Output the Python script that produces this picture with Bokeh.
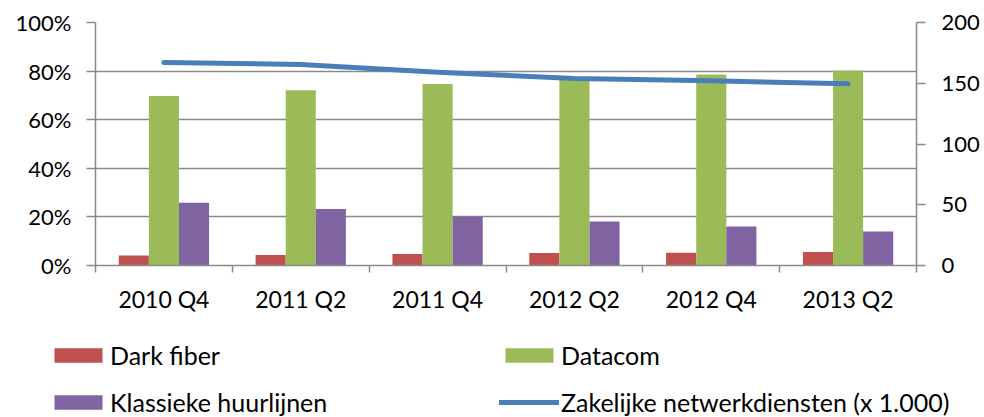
from bokeh.plotting import figure
from bokeh.layouts import column
from bokeh.models import (ColumnDataSource, Range1d, LinearAxis, FixedTicker,
                          NumeralTickFormatter, Legend, LegendItem)
from bokeh.transform import dodge
from bokeh.embed import file_html
from bokeh.resources import INLINE

categories = ["2010 Q4", "2011 Q2", "2011 Q4", "2012 Q2", "2012 Q4", "2013 Q2"]
dark_fiber = [0.041, 0.043, 0.047, 0.051, 0.052, 0.056]
datacom = [0.698, 0.721, 0.747, 0.770, 0.786, 0.802]
klassieke = [0.258, 0.232, 0.202, 0.181, 0.161, 0.140]
zakelijke = [167.0, 165.5, 159.0, 154.0, 152.0, 149.5]

left_ticks = [0, 0.2, 0.4, 0.6, 0.8, 1.0]
right_ticks = [0, 50, 100, 150, 200]

FONT = "Lato"
GRAY = "#8a8a8a"
C_DARK, C_DATA, C_KLAS, C_ZAK = "#c0504d", "#9bbb59", "#8064a2", "#4a7ebb"

xc = [i + 0.5 for i in range(len(categories))]
src = ColumnDataSource(dict(x=xc, dark=dark_fiber, data=datacom, klas=klassieke, zak=zakelijke))

p = figure(width=984, height=320, output_backend="svg", toolbar_location=None,
           x_range=Range1d(0, len(categories)), y_range=Range1d(0, 1),
           min_border_left=95, min_border_right=68, min_border_top=22, min_border_bottom=55)
p.outline_line_color = None
p.extra_y_ranges = {"right": Range1d(0, 200)}

bw = 0.22
p.vbar(x=dodge("x", -bw, range=p.x_range), top="dark", width=bw, source=src,
       fill_color=C_DARK, line_color=None)
p.vbar(x=dodge("x", 0, range=p.x_range), top="data", width=bw, source=src,
       fill_color=C_DATA, line_color=None)
p.vbar(x=dodge("x", bw, range=p.x_range), top="klas", width=bw, source=src,
       fill_color=C_KLAS, line_color=None)
p.line(x="x", y="zak", source=src, y_range_name="right",
       line_color=C_ZAK, line_width=5, line_cap="round", line_join="round")

# axes
p.xaxis.ticker = FixedTicker(ticks=xc, minor_ticks=list(range(len(categories) + 1)))
p.xaxis.major_label_overrides = {x: c for x, c in zip(xc, categories)}
p.xaxis.major_tick_out = 0
p.xaxis.major_tick_in = 0
p.xaxis.minor_tick_out = 7
p.xaxis.minor_tick_in = 0
p.xaxis.minor_tick_line_color = GRAY
p.xaxis.minor_tick_line_width = 1.5
p.xaxis.axis_line_color = GRAY
p.xaxis.axis_line_width = 1.5
p.xaxis.major_label_standoff = 12

p.yaxis.ticker = FixedTicker(ticks=left_ticks)
p.yaxis.formatter = NumeralTickFormatter(format="0%")
p.yaxis.major_tick_out = 9
p.yaxis.major_tick_in = 0
p.yaxis.minor_tick_line_color = None
p.yaxis.major_tick_line_color = GRAY
p.yaxis.major_tick_line_width = 1.5
p.yaxis.axis_line_color = GRAY
p.yaxis.axis_line_width = 1.5
p.yaxis.major_label_standoff = 15

ra = LinearAxis(y_range_name="right", ticker=FixedTicker(ticks=right_ticks))
ra.major_tick_out = 9
ra.major_tick_in = 0
ra.minor_tick_line_color = None
ra.major_tick_line_color = GRAY
ra.major_tick_line_width = 1.5
ra.axis_line_color = GRAY
ra.axis_line_width = 1.5
ra.major_label_standoff = 16
p.add_layout(ra, "right")

for ax, fs in [(p.xaxis[0], "23px"), (p.yaxis[0], "22px"), (ra, "22px")]:
    ax.major_label_text_font = FONT
    ax.major_label_text_font_size = fs
    ax.major_label_text_color = "black"

p.xgrid.grid_line_color = None
p.ygrid.ticker = FixedTicker(ticks=left_ticks)
p.ygrid.grid_line_color = GRAY
p.ygrid.grid_line_width = 1.5

# legend strip: same series, drawn outside its view so only the legend shows
q = figure(width=984, height=97, output_backend="svg", toolbar_location=None,
           x_range=Range1d(0, len(categories)), y_range=Range1d(1000, 1001),
           x_axis_location=None, y_axis_location=None,
           min_border_left=0, min_border_right=0, min_border_top=0, min_border_bottom=0)
q.frame_align = False
q.outline_line_color = None
q.grid.grid_line_color = None
e_dark = q.vbar(x="x", top="dark", width=bw, source=src, fill_color=C_DARK, line_color=None)
e_data = q.vbar(x="x", top="data", width=bw, source=src, fill_color=C_DATA, line_color=None)
e_klas = q.vbar(x="x", top="klas", width=bw, source=src, fill_color=C_KLAS, line_color=None)
e_zak = q.line(x="x", y="zak", source=src, line_color=C_ZAK, line_width=5, line_cap="round")

def make_legend(items, loc):
    return Legend(items=items, location=loc, orientation="vertical",
                  glyph_width=60, glyph_height=18, label_standoff=2,
                  label_height=24, spacing=17, padding=0, margin=0,
                  border_line_color=None, background_fill_alpha=0,
                  label_text_font=FONT, label_text_font_size="25px", label_text_color="black")

q.add_layout(make_legend([LegendItem(label="Dark fiber", renderers=[e_dark]),
                          LegendItem(label="Klassieke huurlijnen", renderers=[e_klas])], (48, 0)))
q.add_layout(make_legend([LegendItem(label="Datacom", renderers=[e_data]),
                          LegendItem(label="Zakelijke netwerkdiensten (x 1.000)", renderers=[e_zak])], (499, 0)))

layout = column(p, q, spacing=0)
open("out.html", "w").write(file_html(layout, INLINE))
